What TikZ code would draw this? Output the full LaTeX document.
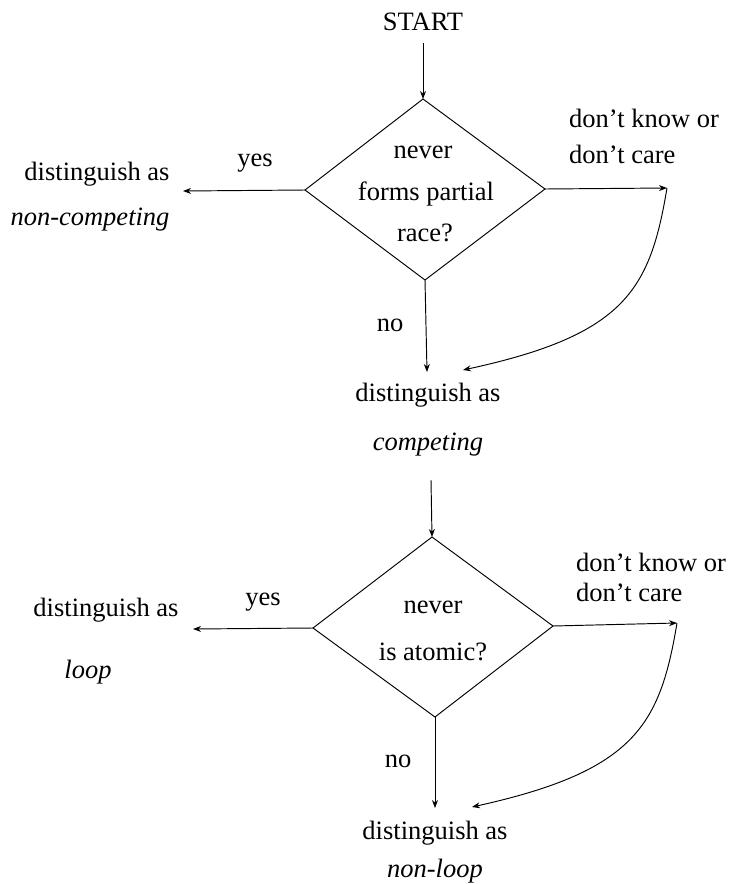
\documentclass[tikz,border=0pt]{standalone}
\usepackage{fontspec}
\setmainfont{Liberation Serif}
\usetikzlibrary{arrows.meta}
\begin{document}
\begin{tikzpicture}[x=1pt,y=-1pt,
  lbl/.style={anchor=base,inner sep=0pt,yshift=-2pt,font=\fontsize{26.5}{30}\selectfont},
  lblw/.style={lbl,anchor=base west},
  conn/.style={line width=0.95pt,-{Stealth[length=8pt,width=6pt]}},
  rhombus/.style={line width=0.95pt,line join=miter}]
\useasboundingbox (0,0) rectangle (732,884);

% ---------- first decision ----------
\node[lbl] (start) at (423,28.5) {START};
\coordinate (s1) at (423,43);
\coordinate (d1t) at (423,99);
\coordinate (d1r) at (545,189);
\coordinate (d1b) at (425,280);
\coordinate (d1l) at (305,190);
\draw[rhombus] (d1t) -- (d1r) -- (d1b) -- (d1l) -- cycle;
\node[lbl] (q1a) at (423,156) {never};
\node[lbl] (q1b) at (426,198) {forms partial};
\node[lbl] (q1c) at (425,239) {race?};

\coordinate (y1) at (183,191);
\node[lbl] (yes1) at (255,164) {yes};
\node[lbl] (nc1) at (97,178) {distinguish as};
\node[lbl] (nc2) at (90,223) {\itshape non-competing};

\coordinate (k1) at (667,188);
\node[lblw] (dk1) at (569,125) {don’t know or};
\node[lblw] (dc1) at (569,161) {don’t care};

\coordinate (n1) at (427,372);
\coordinate (m1) at (463,370);
\node[lbl] (no1) at (390,329) {no};
\node[lbl] (c1) at (428,399) {distinguish as};
\node[lbl] (c2) at (428,448) {\itshape competing};

\draw[conn] (s1) -- (d1t);
\draw[conn] (d1l) -- (y1);
\draw[conn] (d1r) -- (k1);
\draw[conn] (d1b) -- (n1);
\draw[conn] (k1) .. controls (650,290) and (625,335) .. (m1);

% ---------- second decision ----------
\coordinate (s2) at (431,480);
\coordinate (d2t) at (432,537);
\coordinate (d2r) at (553,626);
\coordinate (d2b) at (435,717);
\coordinate (d2l) at (313,628);
\draw[rhombus] (d2t) -- (d2r) -- (d2b) -- (d2l) -- cycle;
\node[lbl] (q2a) at (433,611) {never};
\node[lbl] (q2b) at (433,658) {is atomic?};

\coordinate (y2) at (193,629);
\node[lbl] (yes2) at (263,603) {yes};
\node[lbl] (lp1) at (106,614) {distinguish as};
\node[lbl] (lp2) at (88,676) {\itshape loop};

\coordinate (k2) at (677,623);
\node[lblw] (dk2) at (576,569) {don’t know or};
\node[lblw] (dc2) at (576,599) {don’t care};

\coordinate (n2) at (435,808);
\coordinate (m2) at (472,807);
\node[lbl] (no2) at (398,765) {no};
\node[lbl] (nl1) at (435,837) {distinguish as};
\node[lbl] (nl2) at (435,875) {\itshape non-loop};

\draw[conn] (s2) -- (d2t);
\draw[conn] (d2l) -- (y2);
\draw[conn] (d2r) -- (k2);
\draw[conn] (d2b) -- (n2);
\draw[conn] (k2) .. controls (660,725) and (635,771) .. (m2);
\end{tikzpicture}
\end{document}
